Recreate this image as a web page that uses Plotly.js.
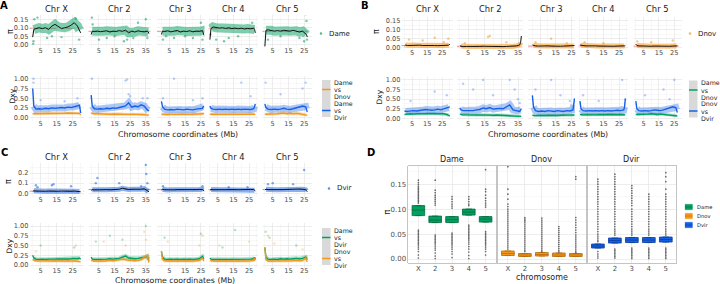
<!DOCTYPE html>
<html><head><meta charset="utf-8">
<script src="https://cdn.plot.ly/plotly-3.0.1.min.js"></script>
<style>html,body{margin:0;padding:0;background:#fff;overflow:hidden}#plot{width:720px;height:284px}</style>
</head><body><div id="plot"></div>
<script>
// ================= DATA =================
const chromosomes = ['Chr X','Chr 2','Chr 3','Chr 4','Chr 5'];
const posX = [0,0.7,2,4,6,8,10,12,14,16,18,20,22,24,26,28,29.3,30];
const pos2 = [0,0.7,2,4,6,8,10,12,14,16,18,20,22,24,26,28,30,32,34,36,36.6,37];
const pos3 = [0,0.7,2,4,6,8,10,12,14,16,18,20,22,24,26,26.5,27];
const pos4 = [0,0.7,2,4,6,8,10,12,14,16,18,20,22,24,26,28,28.5,29];
const pos5 = [0,0.7,2,4,6,8,10,12,14,16,18,20,22,24,26,26.5,27];
const positions = [posX,pos2,pos3,pos4,pos5];
const xTickVals = [5,15,25,35];
const xTickText = ['5','15','25','35'];

// Panel A : Dame
const A_pi = [
 [0.045,0.09,0.095,0.10,0.095,0.10,0.09,0.11,0.12,0.105,0.095,0.10,0.105,0.115,0.13,0.11,0.085,0.07],
 [0.06,0.08,0.078,0.08,0.077,0.08,0.082,0.075,0.08,0.078,0.083,0.079,0.086,0.07,0.08,0.075,0.082,0.078,0.076,0.08,0.075,0.065],
 [0.06,0.08,0.078,0.082,0.076,0.08,0.084,0.075,0.08,0.078,0.082,0.076,0.08,0.079,0.083,0.07,0.055],
 [0.03,0.095,0.105,0.10,0.098,0.10,0.096,0.10,0.095,0.098,0.094,0.097,0.093,0.096,0.094,0.098,0.09,0.07],
 [-0.01,0.085,0.088,0.085,0.08,0.083,0.08,0.085,0.082,0.08,0.085,0.082,0.075,0.08,0.065,0.06,0.045]];
const A_piMean = [0.097,0.079,0.079,0.094,0.079];
const A_piOut = [[0,0.3,0.005],[0,0.5,0.02],[0,1,0.15],[0,3,0.16],[0,9,0.04],[0,12,0.05],[0,18,0.045],[0,27,0.155],[0,29,0.03],
 [1,0.5,0.16],[1,1,0.12],[1,5,0.03],[1,10,0.04],[1,15,0.05],[1,21,0.02],[1,23,0.03],[1,27,0.04],[1,30,0.13],[1,35,0.15],[1,36,0.04],
 [2,1,0.03],[2,3,0.05],[2,8,0.04],[2,15,0.05],[2,20,0.04],[2,25,0.13],[2,26,0.03],
 [3,0.3,0.06],[3,4,0.03],[3,9,0.02],[3,12,0.04],[3,18,0.05],[3,27,0.13],
 [4,2,0.03],[4,10,0.05],[4,22,0.04],[4,25,0.02],[4,26,0.18],[4,26.5,0.14],[4,26.8,0.03]];
const A_dxyDnov = [
 [0.1,0.1,0.1,0.105,0.1,0.11,0.105,0.11,0.11,0.115,0.11,0.115,0.12,0.115,0.12,0.12,0.11,0.07],
 [0.12,0.11,0.1,0.1,0.095,0.1,0.095,0.09,0.095,0.09,0.095,0.09,0.09,0.085,0.09,0.08,0.085,0.08,0.08,0.07,0.065,0.06],
 [0.09,0.085,0.08,0.08,0.085,0.08,0.085,0.09,0.085,0.09,0.085,0.09,0.09,0.095,0.09,0.1,0.11],
 [0.09,0.09,0.085,0.09,0.085,0.09,0.09,0.085,0.09,0.095,0.09,0.09,0.095,0.09,0.095,0.1,0.1,0.09],
 [0.09,0.09,0.09,0.1,0.095,0.1,0.11,0.12,0.1,0.11,0.1,0.11,0.1,0.09,0.08,0.07,0.06]];
const A_dxyDvir = [
 [0.75,0.3,0.22,0.23,0.22,0.24,0.23,0.25,0.24,0.25,0.26,0.25,0.27,0.26,0.28,0.3,0.32,0.12],
 [0.58,0.3,0.23,0.22,0.23,0.22,0.24,0.23,0.25,0.24,0.26,0.28,0.3,0.38,0.27,0.3,0.28,0.33,0.3,0.2,0.18,0.17],
 [0.42,0.28,0.22,0.2,0.21,0.2,0.22,0.21,0.2,0.22,0.21,0.2,0.22,0.23,0.24,0.28,0.3],
 [0.3,0.24,0.22,0.21,0.22,0.21,0.22,0.21,0.22,0.21,0.22,0.21,0.22,0.22,0.21,0.23,0.3,0.35],
 [0.35,0.26,0.22,0.21,0.22,0.21,0.22,0.24,0.22,0.21,0.23,0.25,0.28,0.3,0.28,0.22,0.15]];
const A_dxyOut = [[0,0.5,1.0],[0,0.5,0.9],[0,5,0.45],[0,20,0.42],[0,28,0.5],[1,0.5,1.0],[1,22,0.95],[1,23,0.98],[1,24,0.6],[1,25,0.55],[1,33,0.5],[1,36,0.5],
 [2,1,0.5],[2,8,1.0],[2,20,0.45],[2,26,0.5],[3,20,0.9],[3,26,0.55],[4,0.5,0.9],[4,10,0.6],[4,24,0.75],[4,26,0.9]];

// Panel B : Dnov
const B_pi = [
 [0.01,0.015,0.012,0.013,0.015,0.012,0.014,0.012,0.013,0.012,0.011,0.012,0.011,0.012,0.012,0.013,0.014,0.02],
 [0.01,0.008,0.006,0.007,0.006,0.007,0.006,0.007,0.008,0.007,0.006,0.007,0.006,0.007,0.006,0.007,0.008,0.007,0.01,0.015,0.03,0.065],
 [0.015,0.012,0.01,0.009,0.01,0.009,0.01,0.009,0.01,0.009,0.008,0.009,0.01,0.009,0.01,0.01,0.012],
 [0.015,0.013,0.012,0.01,0.011,0.009,0.01,0.009,0.008,0.009,0.008,0.009,0.008,0.009,0.008,0.009,0.01,0.012],
 [0.02,0.012,0.01,0.009,0.01,0.009,0.008,0.009,0.008,0.009,0.008,0.009,0.008,0.009,0.008,0.01,0.012]];
const B_piMean = [0.012,0.008,0.009,0.009,0.008];
const B_piOut = [[0,3,0.045],[0,12,0.04],[0,20,0.055],[0,29,0.05],[0,26,0.03],[1,3,0.025],[1,17,0.06],[1,18,0.065],[1,28,0.03],[1,37,0.18],
 [2,2,0.03],[2,12,0.05],[2,22,0.025],[3,3,0.03],[3,15,0.025],[4,10,0.03],[4,24,0.04],[4,1,0.035]];
const B_dxyAme = [
 [0.1,0.11,0.11,0.12,0.11,0.12,0.12,0.125,0.12,0.13,0.125,0.13,0.13,0.125,0.12,0.1,0.07,0.06],
 [0.11,0.1,0.09,0.09,0.085,0.09,0.085,0.09,0.085,0.09,0.085,0.08,0.085,0.08,0.08,0.075,0.08,0.07,0.06,0.06,0.06,0.05],
 [0.08,0.07,0.07,0.075,0.07,0.075,0.08,0.075,0.08,0.075,0.08,0.085,0.08,0.08,0.085,0.09,0.08],
 [0.1,0.09,0.09,0.095,0.09,0.095,0.09,0.095,0.09,0.095,0.1,0.095,0.1,0.095,0.1,0.1,0.1,0.09],
 [0.1,0.1,0.1,0.11,0.1,0.11,0.12,0.11,0.1,0.11,0.1,0.1,0.09,0.08,0.08,0.07,0.06]];
const B_dxyDvir = [
 [0.2,0.18,0.18,0.19,0.2,0.19,0.2,0.21,0.23,0.22,0.21,0.22,0.24,0.22,0.25,0.26,0.28,0.3],
 [0.27,0.22,0.2,0.2,0.21,0.2,0.22,0.23,0.27,0.25,0.28,0.24,0.25,0.26,0.25,0.3,0.35,0.22,0.2,0.18,0.22,0.25],
 [0.6,0.3,0.2,0.18,0.19,0.18,0.2,0.19,0.18,0.2,0.19,0.18,0.2,0.19,0.22,0.35,0.52],
 [0.45,0.25,0.2,0.19,0.2,0.19,0.2,0.19,0.2,0.19,0.2,0.19,0.2,0.21,0.2,0.22,0.3,0.52],
 [0.45,0.25,0.2,0.19,0.2,0.19,0.2,0.22,0.21,0.2,0.22,0.24,0.27,0.3,0.28,0.22,0.15]];
const B_dxyOut = [[0,4,0.45],[0,20,0.7],[0,28,0.6],[1,2,0.9],[1,8,0.75],[1,14,1.0],[1,20,0.6],[1,30,1.0],[1,33,0.75],[1,35,0.5],[1,36,0.4],
 [2,2,0.75],[2,12,1.0],[2,18,0.6],[2,24,0.45],[3,2,0.6],[3,12,0.45],[3,27,1.0],[4,6,0.6],[4,18,0.75],[4,25,1.0],[4,22,0.5]];

// Panel C : Dvir
const C_pi = [
 [0.02,0.025,0.022,0.02,0.022,0.02,0.022,0.02,0.021,0.02,0.022,0.02,0.021,0.02,0.022,0.02,0.018,0.015],
 [0.03,0.035,0.033,0.035,0.032,0.035,0.036,0.034,0.036,0.038,0.04,0.05,0.042,0.038,0.04,0.038,0.036,0.04,0.045,0.03,0.02,0.015],
 [0.035,0.04,0.035,0.033,0.035,0.034,0.036,0.035,0.037,0.035,0.036,0.034,0.036,0.038,0.04,0.035,0.02],
 [0.03,0.038,0.035,0.036,0.034,0.036,0.035,0.037,0.035,0.036,0.035,0.037,0.036,0.035,0.038,0.036,0.03,0.025],
 [0.035,0.04,0.036,0.035,0.036,0.035,0.037,0.036,0.038,0.04,0.038,0.04,0.042,0.04,0.035,0.025,0.015]];
const C_piMean = [0.021,0.037,0.036,0.036,0.037];
const C_piOut = [[0,2,0.08],[0,3,0.06],[0,12,0.08],[0,13,0.09],[0,24,0.07],[1,3,0.1],[1,4,0.15],[1,18,0.1],[1,32,0.07],[1,35,0.28],[1,35.3,0.19],[1,36,0.1],
 [2,1,0.07],[2,26,0.07],[3,12,0.06],[3,24,0.06],[4,2,0.09],[4,5,0.1],[4,18,0.09],[4,25,0.23]];
const C_dxyAme = [
 [0.25,0.18,0.15,0.14,0.15,0.14,0.15,0.145,0.15,0.155,0.15,0.16,0.155,0.16,0.17,0.16,0.18,0.15],
 [0.2,0.15,0.14,0.14,0.15,0.14,0.15,0.16,0.15,0.16,0.17,0.2,0.23,0.18,0.17,0.16,0.17,0.18,0.2,0.22,0.15,0.1],
 [0.35,0.2,0.15,0.14,0.15,0.14,0.15,0.14,0.15,0.14,0.15,0.14,0.15,0.16,0.22,0.18,0.15],
 [0.18,0.15,0.14,0.14,0.15,0.14,0.15,0.14,0.15,0.14,0.15,0.14,0.15,0.14,0.15,0.16,0.2,0.15],
 [0.45,0.2,0.15,0.14,0.15,0.14,0.16,0.15,0.16,0.15,0.16,0.17,0.16,0.17,0.2,0.16,0.14]];
const C_dxyNov = [
 [0.15,0.12,0.11,0.105,0.11,0.105,0.11,0.1,0.11,0.1,0.11,0.1,0.11,0.1,0.11,0.1,0.1,0.08],
 [0.12,0.11,0.1,0.1,0.11,0.1,0.11,0.12,0.11,0.12,0.13,0.15,0.14,0.12,0.12,0.11,0.12,0.14,0.2,0.25,0.12,0.06],
 [0.35,0.15,0.11,0.1,0.11,0.1,0.11,0.1,0.11,0.1,0.11,0.1,0.11,0.12,0.18,0.13,0.1],
 [0.12,0.11,0.1,0.1,0.11,0.1,0.11,0.1,0.11,0.1,0.11,0.1,0.11,0.1,0.11,0.12,0.18,0.12],
 [0.45,0.15,0.1,0.1,0.11,0.1,0.11,0.1,0.11,0.1,0.11,0.12,0.11,0.12,0.18,0.12,0.08]];
const C_dxyOutAme = [[0,5,0.5],[0,26,0.45],[1,3,0.6],[1,12,0.75],[1,20,0.65],[1,35,1.0],[2,2,0.7],[2,25,0.8],[3,16,0.9],[3,8,0.45],[4,0.5,0.85],[4,3,0.7],[4,20,0.5]];
const C_dxyOutNov = [[0,2,0.35],[0,27,0.5],[1,8,0.6],[1,22,0.5],[1,34,0.85],[1,35,0.65],[2,4,0.6],[2,24,0.5],[2,26,0.75],[3,6,0.5],[3,25,0.6],[4,2,0.75],[4,6,0.55],[4,24,0.4]];

// Panel D : boxplots of pi per chromosome
const D_species = ['Dame','Dnov','Dvir'];
const D_categories = ['X','2','3','4','5'];
const D_q1  = [[0.087,0.073,0.073,0.088,0.074],[0.007,0.005,0.006,0.005,0.005],[0.022,0.032,0.033,0.033,0.034]];
const D_med = [[0.098,0.078,0.079,0.094,0.080],[0.011,0.008,0.009,0.008,0.008],[0.026,0.037,0.038,0.038,0.039]];
const D_q3  = [[0.107,0.086,0.085,0.100,0.085],[0.016,0.011,0.013,0.012,0.011],[0.030,0.042,0.043,0.043,0.044]];
const D_outDame = [
 [0.158,0.153,0.149,0.145,0.142,0.139,0.136,0.133,0.130,0.127,0.124,0.121,0.118,0.115,0.112,0.058,0.055,0.052,0.049,0.046,0.043,0.040,0.037,0.034,0.031,0.028,0.024,0.020,0.015,0.008,0.002],
 [0.158,0.138,0.133,0.128,0.124,0.12,0.116,0.112,0.108,0.048,0.045,0.042,0.039,0.036,0.033,0.030,0.026,0.022,0.018,0.012,0.006,0.001],
 [0.125,0.12,0.115,0.11,0.106,0.102,0.052,0.049,0.046,0.043,0.04,0.037,0.034,0.031,0.028,0.024,0.02,0.015,0.01,0.003],
 [0.125,0.12,0.115,0.11,0.107,0.068,0.065,0.062,0.059,0.056,0.053,0.05,0.047,0.044,0.041,0.038,0.034,0.03,0.025,0.02,0.014,0.007,0.001],
 [0.179,0.14,0.135,0.128,0.122,0.117,0.112,0.108,0.104,0.055,0.052,0.049,0.046,0.043,0.04,0.037,0.034,0.031,0.028,0.024,0.02,0.015,0.008]];
const D_outDnov = [
 [0.185,0.14,0.13,0.12,0.11,0.105,0.1,0.096,0.092,0.088,0.084,0.08,0.076,0.072,0.068,0.064,0.06,0.056,0.052,0.048,0.044,0.04,0.036,0.032,0.028,0.024,0.02],
 [0.083,0.08,0.077,0.074,0.07,0.066,0.062,0.058,0.054,0.05,0.046,0.042,0.038,0.034,0.03,0.026,0.022,0.018,0.015],
 [0.082,0.078,0.074,0.07,0.066,0.062,0.058,0.054,0.05,0.046,0.042,0.038,0.034,0.03,0.026,0.022,0.018,0.015],
 [0.065,0.061,0.057,0.053,0.049,0.045,0.041,0.037,0.033,0.029,0.025,0.021,0.017,0.014],
 [0.165,0.16,0.083,0.078,0.073,0.068,0.063,0.058,0.053,0.048,0.044,0.04,0.036,0.032,0.028,0.024,0.02,0.016,0.013]];
const D_outDvir = [
 [0.16,0.155,0.15,0.145,0.14,0.135,0.13,0.125,0.12,0.115,0.11,0.105,0.1,0.095,0.09,0.085,0.08,0.075,0.07,0.065,0.06,0.055,0.05,0.046,0.042,0.038,0.035,0.015,0.01,0.006,0.002],
 [0.17,0.165,0.16,0.155,0.15,0.145,0.14,0.135,0.13,0.125,0.12,0.115,0.11,0.105,0.1,0.095,0.09,0.085,0.08,0.075,0.07,0.065,0.06,0.056,0.052,0.048,0.02,0.017,0.014,0.011,0.008,0.005,0.002],
 [0.147,0.142,0.137,0.132,0.127,0.122,0.117,0.112,0.107,0.1,0.095,0.09,0.085,0.08,0.075,0.07,0.065,0.06,0.056,0.052,0.048,0.022,0.019,0.016,0.013,0.01,0.007,0.004,0.001],
 [0.13,0.125,0.12,0.115,0.11,0.105,0.1,0.095,0.09,0.085,0.08,0.075,0.07,0.065,0.06,0.056,0.052,0.048,0.022,0.019,0.016,0.013,0.01,0.007,0.004,0.001],
 [0.173,0.165,0.155,0.14,0.13,0.125,0.12,0.115,0.11,0.105,0.1,0.095,0.09,0.085,0.08,0.075,0.07,0.065,0.06,0.056,0.052,0.048,0.022,0.019,0.016,0.013,0.01,0.007,0.004,0.001]];
const D_out = [D_outDame, D_outDnov, D_outDvir];

// ================= BUILD =================
const W = 720, H = 284, FONT = 'DejaVu Sans';
const COL = {Dame:'#00A060', Dnov:'#F5991E', Dvir:'#1461E8'};
const DARK = {Dame:'#006b3f', Dnov:'#b86a08', Dvir:'#0a3d9c'};
function rgba(hex,a){const n=parseInt(hex.slice(1),16);return 'rgba('+((n>>16)&255)+','+((n>>8)&255)+','+(n&255)+','+a+')';}

const layout = {width:W, height:H, margin:{l:0,r:0,t:0,b:0,pad:0}, paper_bgcolor:'#ffffff', plot_bgcolor:'rgba(0,0,0,0)',
  showlegend:false, shapes:[], annotations:[], font:{family:FONT, color:'#4d4d4d', size:7}};
const traces = [];
let axN = 0;
function newAxes(xpx, ypx, xo, yo){
  axN++;
  const s = axN===1 ? '' : String(axN);
  const base = {showgrid:true, gridcolor:'#e6e6e6', gridwidth:0.7, zeroline:false, showline:false, ticks:'',
    tickfont:{family:FONT, size:6.6, color:'#4d4d4d'}, fixedrange:true};
  layout['xaxis'+s] = Object.assign({}, base, {domain:[xpx[0]/W, xpx[1]/W], anchor:'y'+s, ticklabelstandoff:-3}, xo);
  layout['yaxis'+s] = Object.assign({}, base, {domain:[1-ypx[1]/H, 1-ypx[0]/H], anchor:'x'+s}, yo);
  return {x:'x'+s, y:'y'+s};
}
function ann(text, xp, yp, o){
  o = o || {};
  layout.annotations.push({text:text, x:xp/W, y:1-yp/H, xref:'paper', yref:'paper', showarrow:false,
    xanchor:o.xanchor||'center', yanchor:o.yanchor||'middle', textangle:o.angle||0,
    font:{family:FONT, size:o.size||8, color:o.color||'#1a1a1a'}});
}
function rectPx(x0,y0,x1,y1,fill,line){
  layout.shapes.push({type:'rect', xref:'paper', yref:'paper', x0:x0/W, x1:x1/W, y0:1-y1/H, y1:1-y0/H,
    fillcolor:fill, line:line||{width:0}, layer:'above'});
}
function linePx(x0,y0,x1,y1,color,w){
  layout.shapes.push({type:'line', xref:'paper', yref:'paper', x0:x0/W, x1:x1/W, y0:1-y0/H, y1:1-y1/H,
    line:{color:color, width:w}, layer:'above'});
}
function xChrom(range){
  return {range:range, tickmode:'array', tickvals:xTickVals, ticktext:xTickText,
    minor:{tickmode:'array', tickvals:[0,10,20,30], showgrid:true, gridcolor:'#f2f2f2', gridwidth:0.5}};
}
function yAx(range, tv, tt, mv, show){
  return {range:range, tickmode:'array', tickvals:tv, ticktext:tt, showticklabels:show,
    minor:{tickmode:'array', tickvals:mv, showgrid:true, gridcolor:'#f2f2f2', gridwidth:0.5}};
}
function pts(arr, c, ax, color, size, op){
  const o = arr.filter(p => p[0]===c);
  traces.push({type:'scatter', mode:'markers', xaxis:ax.x, yaxis:ax.y, x:o.map(p=>p[1]), y:o.map(p=>p[2]),
    marker:{size:size, color:color, opacity:op, line:{width:0}}, hoverinfo:'skip'});
}
// the dense cloud of windows around each running line: a wide translucent stroke over the interior windows
function band(ax, xs, ys, color, alpha, width){
  traces.push({type:'scatter', mode:'lines', xaxis:ax.x, yaxis:ax.y, x:xs.slice(1,-1), y:ys.slice(1,-1),
    line:{color:rgba(color,alpha), width:width, shape:'linear'}, hoverinfo:'skip'});
}

const chromRange = [[-2,32.1],[-1.7,38],[-2.8,27.3],[-0.9,30.7],[-1.5,29.7]];
const domAC = [[29.5,84],[88.5,150.5],[157,204.5],[208.5,258],[262.5,311.5]];
const domB  = [[401.5,453],[457,523],[528,575],[578.5,628],[633.5,681.5]];
const dxyTv = [0,0.25,0.5,0.75,1], dxyTt = ['0.00','0.25','0.50','0.75','1.00'], dxyMv = [0.125,0.375,0.625,0.875];
const piTv = [0,0.05,0.1,0.15], piTt = ['0.00','0.05','0.10','0.15'], piMv = [0.025,0.075,0.125];

const panels = [
 {xd:domAC, stripY:9, topY:[15,48], topR:[-0.0195,0.1754], tv:piTv, tt:piTt, mv:piMv,
  botY:[76,121], botR:[-0.085,1.069], pi:A_pi, piMean:A_piMean, piColor:COL.Dame, piBand:9, piBandA:0.5, piOut:A_piOut,
  dxy:[{v:A_dxyDnov,c:COL.Dnov,band:3},{v:A_dxyDvir,c:COL.Dvir,band:7}], dxyOut:[{p:A_dxyOut,c:COL.Dvir}]},
 {xd:domB, stripY:9, topY:[16.5,50.5], topR:[-0.0156,0.173], tv:piTv, tt:piTt, mv:piMv,
  botY:[77,121], botR:[-0.07,1.078], pi:B_pi, piMean:B_piMean, piColor:COL.Dnov, piBand:5, piBandA:0.55, piOut:B_piOut,
  dxy:[{v:B_dxyAme,c:COL.Dame,band:3},{v:B_dxyDvir,c:COL.Dvir,band:7}], dxyOut:[{p:B_dxyOut,c:COL.Dvir}]},
 {xd:domAC, stripY:157, topY:[163,197], topR:[-0.0365,0.2985], tv:[0,0.1,0.2], tt:['0.0','0.1','0.2'], mv:[0.05,0.15,0.25],
  botY:[223,268], botR:[-0.077,1.077], pi:C_pi, piMean:C_piMean, piColor:COL.Dvir, piBand:5, piBandA:0.5, piOut:C_piOut,
  dxy:[{v:C_dxyAme,c:COL.Dame,band:4},{v:C_dxyNov,c:COL.Dnov,band:3}], dxyOut:[{p:C_dxyOutAme,c:COL.Dame},{p:C_dxyOutNov,c:COL.Dnov}]}
];

panels.forEach(P => {
  for (let c=0; c<5; c++){
    const a = newAxes(P.xd[c], P.topY, xChrom(chromRange[c]), yAx(P.topR, P.tv, P.tt, P.mv, c===0));
    layout.shapes.push({type:'line', xref:a.x+' domain', x0:0, x1:1, yref:a.y, y0:P.piMean[c], y1:P.piMean[c],
      line:{color:'#f07a7a', width:0.9, dash:'dash'}, layer:'below'});
    pts(P.piOut, c, a, P.piColor, 2.4, 0.55);
    band(a, positions[c], P.pi[c], P.piColor, P.piBandA, P.piBand);
    traces.push({type:'scatter', mode:'lines', xaxis:a.x, yaxis:a.y, x:positions[c], y:P.pi[c],
      line:{color:'#111111', width:1}, hoverinfo:'skip'});
    ann(chromosomes[c], (P.xd[c][0]+P.xd[c][1])/2, P.stripY, {size:8.4, color:'#1a1a1a'});
    const b = newAxes(P.xd[c], P.botY, xChrom(chromRange[c]), yAx(P.botR, dxyTv, dxyTt, dxyMv, c===0));
    P.dxyOut.forEach(o => pts(o.p, c, b, o.c, 2.4, 0.3));
    P.dxy.forEach(s => band(b, positions[c], s.v[c], s.c, 0.35, s.band));
    P.dxy.forEach(s => traces.push({type:'scatter', mode:'lines', xaxis:b.x, yaxis:b.y, x:positions[c], y:s.v[c],
        line:{color:s.c, width:1.4}, hoverinfo:'skip'}));
  }
});

// Panel D
const domD = [[408.3,495.7],[497.7,586],[587.7,676]];
D_species.forEach((sp, s) => {
  const ax = newAxes(domD[s], [165.7,263.3],
    {range:[0.4,5.6], tickmode:'array', tickvals:[1,2,3,4,5], ticktext:D_categories, showline:true, mirror:true,
     linecolor:'#b5b5b5', linewidth:0.8, tickfont:{family:FONT, size:7, color:'#4d4d4d'}, ticklabelstandoff:-2},
    {range:[-0.0086,0.187], tickmode:'array', tickvals:piTv, ticktext:piTt, showticklabels:s===0, showline:true, mirror:true,
     linecolor:'#b5b5b5', linewidth:0.8, tickfont:{family:FONT, size:7, color:'#4d4d4d'},
     minor:{tickmode:'array', tickvals:[0.025,0.075,0.125,0.175], showgrid:true, gridcolor:'#f2f2f2', gridwidth:0.5}});
  const ox = [], oy = [];
  D_out[s].forEach((vals, i) => vals.forEach(v => { ox.push(i+1); oy.push(v); }));
  traces.push({type:'scatter', mode:'markers', xaxis:ax.x, yaxis:ax.y, x:ox, y:oy,
    marker:{size:1.7, color:'#3a3a3a', opacity:0.75, line:{width:0}}, hoverinfo:'skip'});
  traces.push({type:'box', xaxis:ax.x, yaxis:ax.y, x:[1,2,3,4,5], q1:D_q1[s], median:D_med[s], q3:D_q3[s],
    lowerfence:D_q1[s], upperfence:D_q3[s], width:0.75, boxpoints:false, fillcolor:COL[sp],
    line:{color:DARK[sp], width:0.8}, hoverinfo:'skip'});
  ann(sp, (domD[s][0]+domD[s][1])/2, 159.5, {size:8, color:'#1a1a1a'});
});

// Labels, titles
ann('<b>A</b>', 4, 6, {size:10, color:'#000'});
ann('<b>B</b>', 365, 6, {size:10, color:'#000'});
ann('<b>C</b>', 4, 153, {size:10, color:'#000'});
ann('<b>D</b>', 371, 153, {size:10, color:'#000'});
ann('π', 11, 32, {size:8, angle:-90});
ann('Dxy', 11.5, 96, {size:7.5, angle:-90});
ann('π', 377, 32, {size:8, angle:-90});
ann('Dxy', 378.5, 97, {size:7.5, angle:-90});
ann('π', 8, 182, {size:8, angle:-90});
ann('Dxy', 8.5, 246, {size:7.5, angle:-90});
ann('π', 386.5, 212, {size:8, angle:-90});
ann('Chromosome coordinates (Mb)', 178, 134, {size:7.8});
ann('Chromosome coordinates (Mb)', 548, 134, {size:7.8});
ann('Chromosome coordinates (Mb)', 175, 280.5, {size:7.8});
ann('chromosome', 542, 277.5, {size:8});

// Legends: top (points)
function dotLegend(xc, yc, color, label){
  layout.shapes.push({type:'circle', xref:'paper', yref:'paper', x0:(xc-1.3)/W, x1:(xc+1.3)/W, y0:1-(yc+1.3)/H, y1:1-(yc-1.3)/H,
    fillcolor:rgba(color,0.7), line:{width:0}});
  ann(label, xc+6, yc, {size:7, xanchor:'left'});
}
dotLegend(321, 33.5, COL.Dame, 'Dame');
dotLegend(690, 33.5, COL.Dnov, 'Dnov');
dotLegend(329, 188.5, COL.Dvir, 'Dvir');
// Legends: bottom (lines)
function lineLegend(x0, top, items){
  rectPx(x0, top, x0+8.5, top+37, '#d9d9d9');
  items.forEach((it, k) => {
    linePx(x0, top+9.5+21*k, x0+8.5, top+9.5+21*k, it.c, 1.5);
    it.label.forEach((t, j) => ann(t, x0+10, top+2.5+7*(3*k+j), {size:6.3, xanchor:'left'}));
  });
}
lineLegend(322, 80, [{c:COL.Dnov, label:['Dame','vs','Dnov']}, {c:COL.Dvir, label:['Dame','vs','Dvir']}]);
lineLegend(689, 80.5, [{c:COL.Dame, label:['Dame','vs','Dnov']}, {c:COL.Dvir, label:['Dnov','vs','Dvir']}]);
lineLegend(322, 228, [{c:COL.Dame, label:['Dame','vs','Dvir']}, {c:COL.Dnov, label:['Dnov','vs','Dvir']}]);
// Legend D (boxes)
D_species.forEach((sp, k) => {
  const yc = 207 + 9*k;
  rectPx(685, yc-2.8, 692.5, yc+2.8, COL[sp], {color:rgba(COL[sp],0.4), width:0.6});
  linePx(685, yc, 692.5, yc, DARK[sp], 0.6);
  ann(sp, 695, yc, {size:5.2, xanchor:'left'});
});

Plotly.newPlot('plot', traces, layout, {staticPlot:true, displayModeBar:false});
</script>
</body></html>
